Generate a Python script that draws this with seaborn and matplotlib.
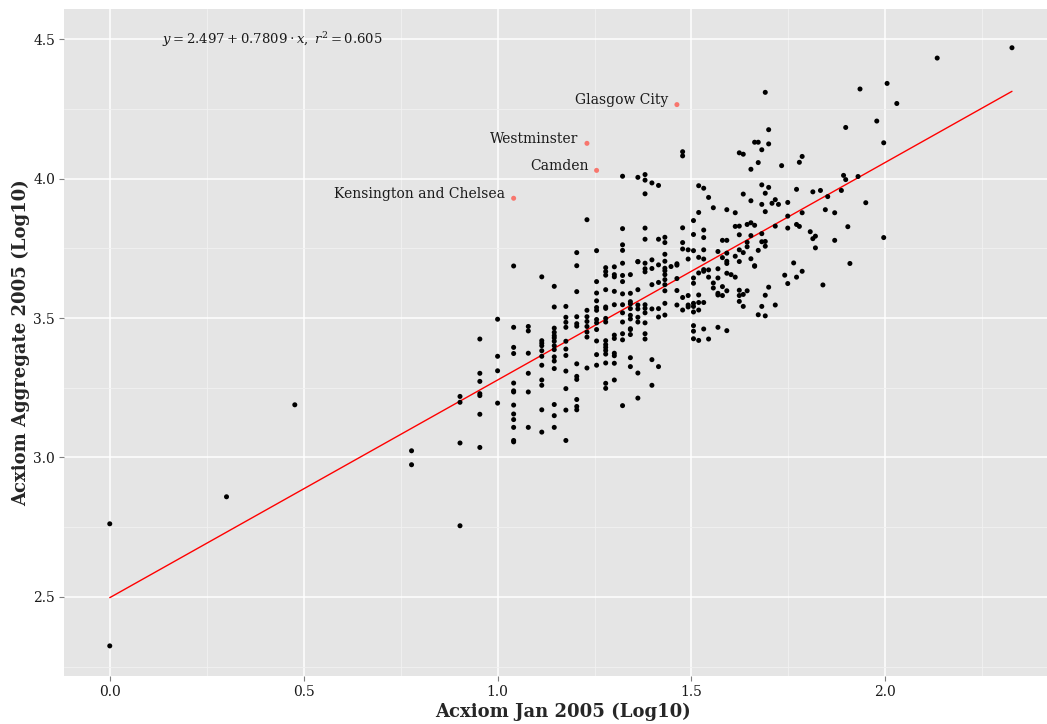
import numpy as np
import pandas as pd
import matplotlib
matplotlib.use("Agg")
import matplotlib.pyplot as plt
from matplotlib.ticker import MultipleLocator, FormatStrFormatter
import seaborn as sns

# ---- data: x = Acxiom Jan 2005 count (plotted as log10), y = log10 aggregate ----
jan_count = [
    1, 1, 2, 3, 6, 6,
    8, 8, 8, 8,
    9, 9, 9, 9, 9, 9, 9,
    10, 10, 10, 10,
    11, 11, 11, 11, 11, 11, 11, 11, 11, 11, 11, 11, 11,
    12, 12, 12, 12, 12, 12,
    13, 13, 13, 13, 13, 13, 13, 13, 13, 13, 13,
    14, 14, 14, 14, 14, 14, 14, 14, 14, 14, 14, 14, 14, 14, 14,
    15, 15, 15, 15, 15, 15, 15, 15, 15, 15, 15,
    16, 16, 16, 16, 16, 16, 16, 16, 16, 16, 16, 16,
    17, 17, 17, 17, 17, 17, 17, 17,
    18, 18, 18, 18, 18, 18, 18, 18, 18, 18, 18, 18,
    19, 19, 19, 19, 19, 19, 19, 19, 19, 19, 19, 19, 19, 19, 19, 19,
    20, 20, 20, 20, 20, 20, 20, 20, 20, 20, 20,
    21, 21, 21, 21, 21, 21, 21, 21, 21, 21, 21, 21, 21, 21,
    22, 22, 22, 22, 22, 22, 22, 22, 22, 22, 22, 22,
    23, 23, 23, 23, 23, 23, 23, 23, 23, 23,
    24, 24, 24, 24, 24, 24, 24, 24, 24, 24, 24, 24, 24, 24,
    25, 25, 25, 25, 25, 25, 25,
    26, 26, 26, 26, 26, 26, 26,
    27, 27, 27, 27, 27, 27, 27, 27, 27, 27, 27, 27,
    28,
    29, 29, 29, 29, 29,
    30, 30, 30, 30, 30, 30, 30,
    31, 31, 31, 31, 31,
    32, 32, 32, 32, 32, 32, 32, 32, 32, 32, 32,
    33, 33, 33, 33, 33, 33, 33, 33,
    34, 34, 34, 34, 34, 34, 34, 34, 34,
    35, 35, 35, 35,
    36, 36, 36,
    37, 37, 37, 37, 37, 37,
    38, 38, 38, 38,
    39, 39, 39, 39, 39, 39, 39, 39,
    40,
    41, 41, 41, 41,
    42, 42, 42, 42, 42, 42, 42, 42,
    43, 43, 43, 43, 43,
    44, 44, 44, 44,
    45, 45, 45, 45, 45,
    46, 46, 46, 46,
    47, 47, 47, 47,
    48, 48, 48, 48, 48, 48,
    49, 49, 49, 49, 49, 49, 49,
    50, 50, 50, 50,
    51, 52, 52, 52, 53, 54, 55,
    56, 56, 56, 56, 58,
    59, 59, 59, 60, 60, 61, 61, 61,
    64, 65, 65, 66, 66, 68, 69, 70, 71, 74, 74,
    77, 78, 79, 79, 80, 81, 85, 86, 89, 95, 99, 99,
    101, 107, 136, 212,
]
aggregate_log10 = [
    2.762, 2.324, 2.859, 3.189, 3.024, 2.974,
    3.219, 3.198, 3.052, 2.755,
    3.425, 3.302, 3.273, 3.222, 3.229, 3.155, 3.036,
    3.496, 3.363, 3.311, 3.195,
    3.687, 3.467, 3.395, 3.373, 3.267, 3.235, 3.239, 3.188, 3.156, 3.136, 3.108, 3.061, 3.056,
    3.470, 3.454, 3.374, 3.302, 3.235, 3.108,
    3.648, 3.419, 3.410, 3.401, 3.383, 3.363, 3.331, 3.278, 3.259, 3.171, 3.091,
    3.614, 3.540, 3.464, 3.449, 3.437, 3.429, 3.417, 3.401, 3.387, 3.361, 3.346, 3.319, 3.190, 3.150, 3.108,
    3.542, 3.503, 3.485, 3.467, 3.417, 3.389, 3.366, 3.310, 3.247, 3.170, 3.061,
    3.735, 3.688, 3.595, 3.505, 3.480, 3.471, 3.336, 3.291, 3.280, 3.208, 3.183, 3.171,
    3.853, 3.528, 3.505, 3.488, 3.470, 3.450, 3.432, 3.321,
    3.742, 3.631, 3.590, 3.562, 3.538, 3.528, 3.495, 3.483, 3.459, 3.418, 3.369, 3.331,
    3.681, 3.667, 3.654, 3.602, 3.535, 3.540, 3.499, 3.486, 3.419, 3.405, 3.395, 3.384, 3.371, 3.339, 3.266, 3.248,
    3.684, 3.656, 3.648, 3.596, 3.548, 3.439, 3.427, 3.374, 3.365, 3.338, 3.278,
    4.009, 3.821, 3.763, 3.743, 3.697, 3.653, 3.631, 3.587, 3.548, 3.519, 3.486, 3.444, 3.422, 3.186,
    3.656, 3.589, 3.559, 3.551, 3.534, 3.510, 3.497, 3.462, 3.459, 3.441, 3.358, 3.326,
    3.703, 3.702, 4.005, 3.602, 3.547, 3.533, 3.503, 3.486, 3.303, 3.213,
    4.015, 3.995, 3.946, 3.823, 3.783, 3.697, 3.677, 3.666, 3.548, 3.535, 3.519, 3.483, 3.444, 3.425,
    3.985, 3.709, 3.678, 3.620, 3.533, 3.351, 3.259,
    3.976, 3.783, 3.691, 3.628, 3.534, 3.504, 3.326,
    3.790, 3.771, 3.729, 3.704, 3.679, 3.670, 3.656, 3.638, 3.620, 3.598, 3.553, 3.511,
    3.685,
    3.690, 3.695, 3.642, 3.599, 3.547,
    4.097, 4.082, 3.824, 3.771, 3.748, 3.574, 3.529,
    3.745, 3.712, 3.581, 3.547, 3.540,
    3.850, 3.800, 3.742, 3.644, 3.625, 3.553, 3.542, 3.522, 3.473, 3.453, 3.426,
    3.975, 3.879, 3.718, 3.662, 3.583, 3.556, 3.529, 3.420,
    3.966, 3.816, 3.789, 3.745, 3.712, 3.674, 3.668, 3.556, 3.461,
    3.933, 3.673, 3.647, 3.425,
    3.896, 3.626, 3.608,
    3.739, 3.677, 3.644, 3.589, 3.583, 3.467,
    3.779, 3.717, 3.613, 3.581,
    3.889, 3.779, 3.733, 3.704, 3.696, 3.661, 3.598, 3.455,
    3.656,
    3.878, 3.829, 3.722, 3.647,
    4.093, 3.830, 3.799, 3.745, 3.703, 3.600, 3.581, 3.560,
    4.088, 3.945, 3.735, 3.585, 3.542,
    3.836, 3.772, 3.756, 3.598,
    4.034, 3.921, 3.842, 3.796, 3.713,
    4.131, 3.833, 3.688, 3.686,
    4.131, 4.058, 3.743, 3.512,
    4.104, 3.978, 3.908, 3.803, 3.774, 3.542,
    4.310, 3.948, 3.882, 3.758, 3.775, 3.582, 3.508,
    4.176, 4.125, 3.969, 3.611,
    3.912, 3.925, 3.830, 3.547, 3.908, 4.047, 3.654,
    3.915, 3.866, 3.823, 3.624, 3.698,
    3.962, 3.836, 3.647, 4.059, 3.829, 4.080, 3.878, 3.668,
    3.810, 3.953, 3.785, 3.794, 3.752, 3.958, 3.619, 3.889, 3.936, 3.878, 3.779,
    3.958, 4.012, 4.184, 3.997, 3.828, 3.696, 4.008, 4.322, 3.914, 4.207, 4.129, 3.789,
    4.342, 4.270, 4.433, 4.470,
]

# highlighted (labelled) outliers
outlier_names = ["Glasgow City", "Westminster", "Camden", "Kensington and Chelsea"]
outlier_count = [29, 17, 18, 11]
outlier_log10 = [4.266, 4.127, 4.030, 3.930]

# fitted model shown in the chart
fit_intercept = 2.497
fit_slope = 0.7809
fit_r2 = 0.605

# ---- frames ----
df = pd.DataFrame({"x": np.log10(jan_count), "y": aggregate_log10})
df_out = pd.DataFrame({"x": np.log10(outlier_count), "y": outlier_log10, "name": outlier_names})
all_x = np.concatenate([df["x"].values, df_out["x"].values])
x_line = np.array([all_x.min(), all_x.max()])
df_fit = pd.DataFrame({"x": x_line, "y": fit_intercept + fit_slope * x_line})

# ---- style ----
sns.set_style("darkgrid")
plt.rcParams["font.family"] = ["DejaVu Serif"]
plt.rcParams["mathtext.fontset"] = "dejavuserif"

W, H = 1047, 724
fig = plt.figure(figsize=(W / 100, H / 100), dpi=100)
left, right, top, bottom = 64, 1057.6, 9, 676
ax = fig.add_axes([left / W, 1 - bottom / H, (right - left) / W, (bottom - top) / H])
ax.set_facecolor("#E5E5E5")
for s in ax.spines.values():
    s.set_visible(False)

ax.set_xlim(-0.118, 2.444)
ax.set_ylim(2.216, 4.609)
ax.xaxis.set_major_locator(MultipleLocator(0.5))
ax.xaxis.set_minor_locator(MultipleLocator(0.25))
ax.yaxis.set_major_locator(MultipleLocator(0.5))
ax.yaxis.set_minor_locator(MultipleLocator(0.25))
ax.xaxis.set_major_formatter(FormatStrFormatter("%.1f"))
ax.yaxis.set_major_formatter(FormatStrFormatter("%.1f"))
ax.grid(which="major", color="white", linewidth=1.1)
ax.grid(which="minor", color="#F2F2F2", linewidth=0.6)
ax.set_axisbelow(True)
ax.tick_params(which="major", bottom=True, left=True, direction="out", length=3.5,
               width=0.8, color="#7F7F7F", labelsize=10, labelcolor="#1a1a1a", pad=3)
ax.tick_params(which="minor", bottom=False, left=False, length=0)

# ---- marks ----
sns.lineplot(data=df_fit, x="x", y="y", color="#FF0000", linewidth=1.0, ax=ax, zorder=2)
sns.scatterplot(data=df, x="x", y="y", color="black", s=13, edgecolor="none", ax=ax, zorder=3)
sns.scatterplot(data=df_out, x="x", y="y", color="#F8766D", s=13, edgecolor="none", ax=ax, zorder=3)

for _, r in df_out.iterrows():
    ax.annotate(r["name"], (r["x"], r["y"]), xytext=(-6, 3), textcoords="offset points",
                ha="right", va="center", fontsize=10, color="#1a1a1a")

ax.text(0.418, 4.5, r"$y=2.497+0.7809\cdot x,\ r^{2}=0.605$", ha="center", va="center",
        fontsize=9.5, color="#1a1a1a")

ax.set_xlabel("Acxiom Jan 2005 (Log10)", fontsize=13, fontweight="bold", va="center")
ax.set_ylabel("Acxiom Aggregate 2005 (Log10)", fontsize=13, fontweight="bold", va="center")
ax.xaxis.set_label_coords((563 - left) / (right - left), -(712 - bottom) / (bottom - top))
ax.yaxis.set_label_coords(-(left - 21) / (right - left), 0.5)

fig.savefig("out.png", dpi=100)
